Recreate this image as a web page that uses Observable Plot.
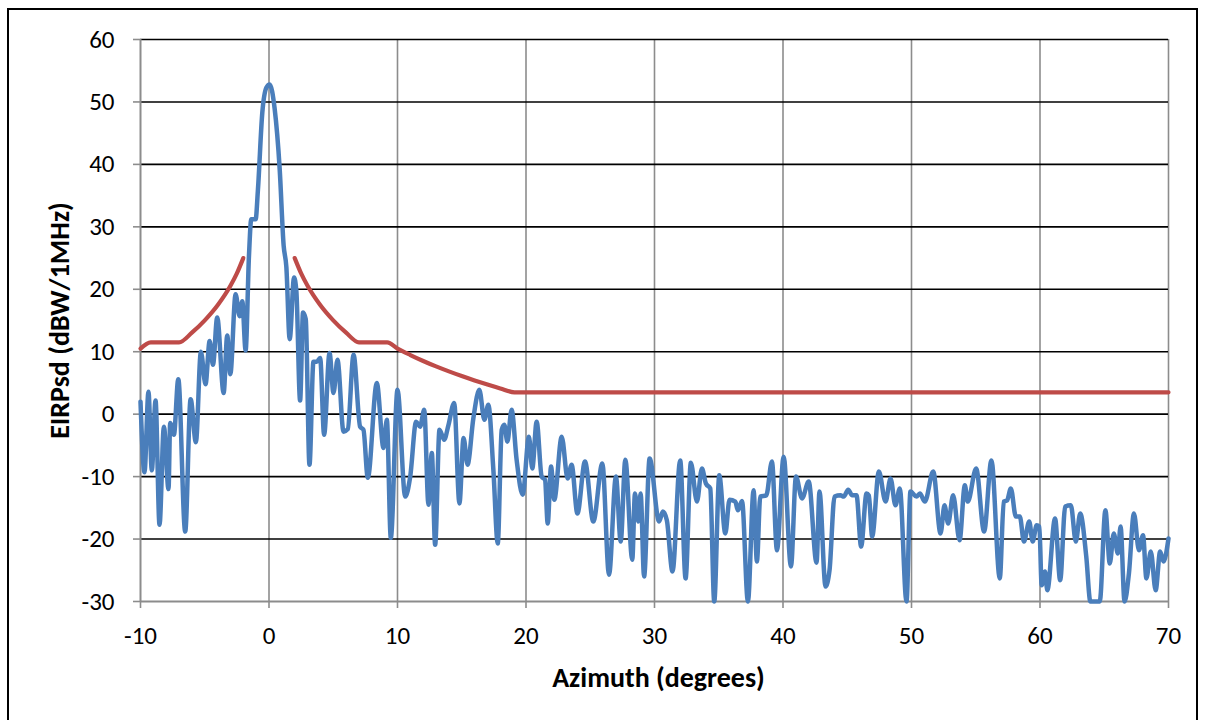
<!DOCTYPE html>
<html>
<head>
<meta charset="utf-8">
<script src="https://cdn.jsdelivr.net/npm/d3@7"></script>
<script src="https://cdn.jsdelivr.net/npm/@observablehq/plot@0.6"></script>
<style>
  html, body { margin: 0; padding: 0; background: #fff; overflow: hidden; }
  #wrap { position: relative; width: 1205px; height: 720px; overflow: hidden; }
  #border { position: absolute; left: 7px; top: 8px; width: 1191px; height: 760px; border: 2px solid #000; box-sizing: border-box; pointer-events: none; }
</style>
</head>
<body>
<div id="wrap"><div id="border"></div></div>
<script>
// ---- data ----
const xTicks = [-10, 0, 10, 20, 30, 40, 50, 60, 70];
const yTicks = [-30, -20, -10, 0, 10, 20, 30, 40, 50, 60];

// measured EIRP density (blue)
const measAz = [-10,-9.69,-9.38,-9.12,-8.83,-8.52,-8.18,-7.82,-7.69,-7.40,-7.06,-6.52,-6.10,-5.69,-5.30,-4.94,-4.62,-4.36,-4.03,-3.53,-3.25,-3.01,-2.60,-2.29,-2.08,-1.82,-1.56,-1.38,-1.04,-0.86,-0.52,-0.2,0.05,0.44,0.83,1.14,1.35,1.61,1.95,2.13,2.42,2.65,2.86,3.15,3.46,3.72,3.98,4.29,4.71,5.02,5.33,5.80,6.13,6.58,7.09,7.35,7.69,8.39,8.91,9.17,9.48,10.0,10.60,10.99,11.45,11.76,12.08,12.41,12.67,12.93,13.27,13.63,13.97,14.41,14.82,15.14,15.45,15.90,16.37,16.76,17.07,17.46,17.80,18.11,18.31,18.55,18.88,19.27,19.74,20.23,20.49,20.83,21.22,21.48,21.69,21.95,22.20,22.78,23.24,23.55,24.00,24.59,25.24,25.94,26.46,27.00,27.37,27.73,28.27,28.48,28.74,28.92,29.19,29.62,30.36,30.65,30.96,31.40,32.0,32.42,32.83,33.30,33.69,34.0,34.34,34.65,35.04,35.51,35.84,36.29,36.49,36.81,37.27,37.71,37.97,38.23,38.70,39.14,39.53,40.05,40.62,41.01,41.48,42.0,42.61,42.84,43.31,43.62,44.01,44.47,44.73,45.07,45.38,45.72,46.08,46.50,46.68,46.94,47.46,47.98,48.37,48.75,49.09,49.61,49.92,50.39,50.65,51.04,51.69,52.26,52.57,52.85,53.24,53.74,54.15,54.38,55.03,55.65,56.22,56.87,57.18,57.44,57.73,58.12,58.43,58.75,59.16,59.43,59.74,59.95,60.13,60.39,60.57,61.17,61.57,61.96,62.40,62.79,63.13,63.60,63.92,64.65,65.09,65.43,65.74,66.06,66.27,66.58,66.92,67.31,67.70,68.02,68.28,68.62,69.0,69.35,69.61,70.0];
const measVal = [2,-9.3,3.6,-9,2.2,-17.7,-2,-12,-1.4,-3.3,5.6,-18.8,2.4,-4.5,10,4.8,11.7,7.9,15.5,3.4,12.6,6.4,19.2,15.7,18.1,10.2,25.3,31.2,31.2,36,48.3,52.3,52.8,48.9,39.3,27,23.6,12,21.9,19.7,2.2,16.3,15.2,-8.1,8.4,8.4,9.0,-3.3,9.8,3.4,8.7,-2.8,-2.4,9.5,-2,-2.5,-10.2,5,-5.4,-0.9,-19.8,3.9,-13.2,-10,-1.2,-2,0.7,-14.5,-6.2,-20.9,-2.5,-4.1,-1.7,1.8,-14.3,-3.8,-8.1,-0.7,3.9,-0.9,1.5,-8.9,-20.7,-2.5,-1.7,-4.4,0.7,-7.3,-12.9,-3.6,-8.7,-1.2,-10,-10.5,-17.5,-8.4,-13.7,-3.6,-10.3,-8.1,-15.9,-7.6,-17.2,-7.9,-25.7,-10,-20.4,-7.3,-23.3,-12.7,-17.2,-12.7,-26,-7.1,-17.2,-15.6,-17,-25.2,-7.4,-26.3,-7.8,-14,-8.7,-11.1,-11.9,-30,-9.8,-19.1,-13.7,-14,-15.4,-13.9,-30,-12.2,-23.6,-13.2,-13,-7.6,-21.8,-6.8,-24.4,-10,-13.5,-10.8,-23.8,-12.4,-27.6,-25,-13.2,-13,-13.2,-12.1,-13,-13,-21.2,-12.7,-13,-19.6,-9.2,-14,-10.3,-14.6,-11.9,-30,-12.4,-13.2,-12.7,-14,-9.2,-19.1,-14.6,-17.5,-13,-20.2,-11.4,-14,-8.7,-18.8,-7.4,-26.3,-14,-13.8,-11.9,-16.4,-16.4,-20.4,-17.2,-20.4,-17.8,-18,-27.4,-25.2,-28.2,-16.7,-26.6,-14.8,-14.6,-20.4,-15.9,-22.8,-30,-30,-15.4,-23.9,-19.1,-22.3,-18,-30,-25.5,-15.9,-21.8,-19.4,-26.3,-22,-28.2,-22,-23.6,-19.9];

// limit mask (red), two segments either side of boresight
const maskLeftAz  = [-10, -9.2, -7, -6, -5, -4, -3, -2.5, -2];
const maskLeftVal = [10.5, 11.5, 11.5, 13.05, 15.03, 17.45, 20.57, 22.55, 25.0];
const maskRightAz  = [2, 2.5, 3, 4, 5, 6, 7, 9.2, 10, 11, 12, 13, 14, 15, 16, 17, 18, 19.1, 70];
const maskRightVal = [25.0, 22.55, 20.57, 17.45, 15.03, 13.05, 11.5, 11.5, 10.5, 9.47, 8.52, 7.65, 6.85, 6.1, 5.4, 4.74, 4.12, 3.5, 3.5];

const measured = measAz.map((a, i) => ({az: a, v: measVal[i]}));
const mask = [
  ...maskLeftAz.map((a, i) => ({az: a, v: maskLeftVal[i], seg: "L"})),
  ...maskRightAz.map((a, i) => ({az: a, v: maskRightVal[i], seg: "R"}))
];

const FONT = "Carlito, Calibri, Lato, 'Open Sans', sans-serif";
const fmt = d => String(d);  // plain hyphen-minus, as in the reference

const chart = Plot.plot({
  width: 1205,
  height: 720,
  marginLeft: 140,
  marginRight: 37,
  marginTop: 39,
  marginBottom: 119,
  style: {fontFamily: FONT, fontSize: "25px", color: "#000", background: "transparent", overflow: "visible"},
  x: {domain: [-10, 70], ticks: xTicks},
  y: {domain: [-30, 60], ticks: yTicks},
  marks: [
    Plot.ruleX(xTicks.filter(d => d > -10), {stroke: "#8c8c8c", strokeWidth: 1.6}),
    Plot.ruleY(yTicks.filter(d => d > -30), {stroke: "#000", strokeWidth: 1.6}),
    Plot.ruleX([-10], {stroke: "#8c8c8c", strokeWidth: 2}),
    Plot.ruleY([-30], {stroke: "#8c8c8c", strokeWidth: 2}),
    Plot.axisY({ticks: yTicks, tickFormat: fmt, tickSize: 7, tickPadding: 19, stroke: "#8c8c8c", strokeWidth: 1.6, label: null, fill: "#000", fontSize: 25}),
    Plot.axisX({ticks: xTicks, tickFormat: fmt, tickSize: 7, tickPadding: 18, stroke: "#8c8c8c", strokeWidth: 1.6, label: null, fill: "#000", fontSize: 25}),
    Plot.line(mask, {x: "az", y: "v", z: "seg", stroke: "#BE4B48", strokeWidth: 4.2, curve: "monotone-x"}),
    Plot.line(measured, {x: "az", y: "v", stroke: "#4A7EBB", strokeWidth: 4.5, curve: "monotone-x", strokeLinejoin: "round"}),
    Plot.text(["Azimuth (degrees)"], {frameAnchor: "bottom", textAnchor: "middle", dx: 4, dy: 85, fontWeight: "bold", fontSize: 28, fill: "#000"}),
    Plot.text(["EIRPsd (dBW/1MHz)"], {frameAnchor: "left", textAnchor: "middle", dx: -80, rotate: -90, fontWeight: "bold", fontSize: 28, fill: "#000"})
  ]
});
chart.style.position = "absolute";
chart.style.left = "0px";
chart.style.top = "0px";
document.getElementById("wrap").appendChild(chart);
</script>
</body>
</html>
